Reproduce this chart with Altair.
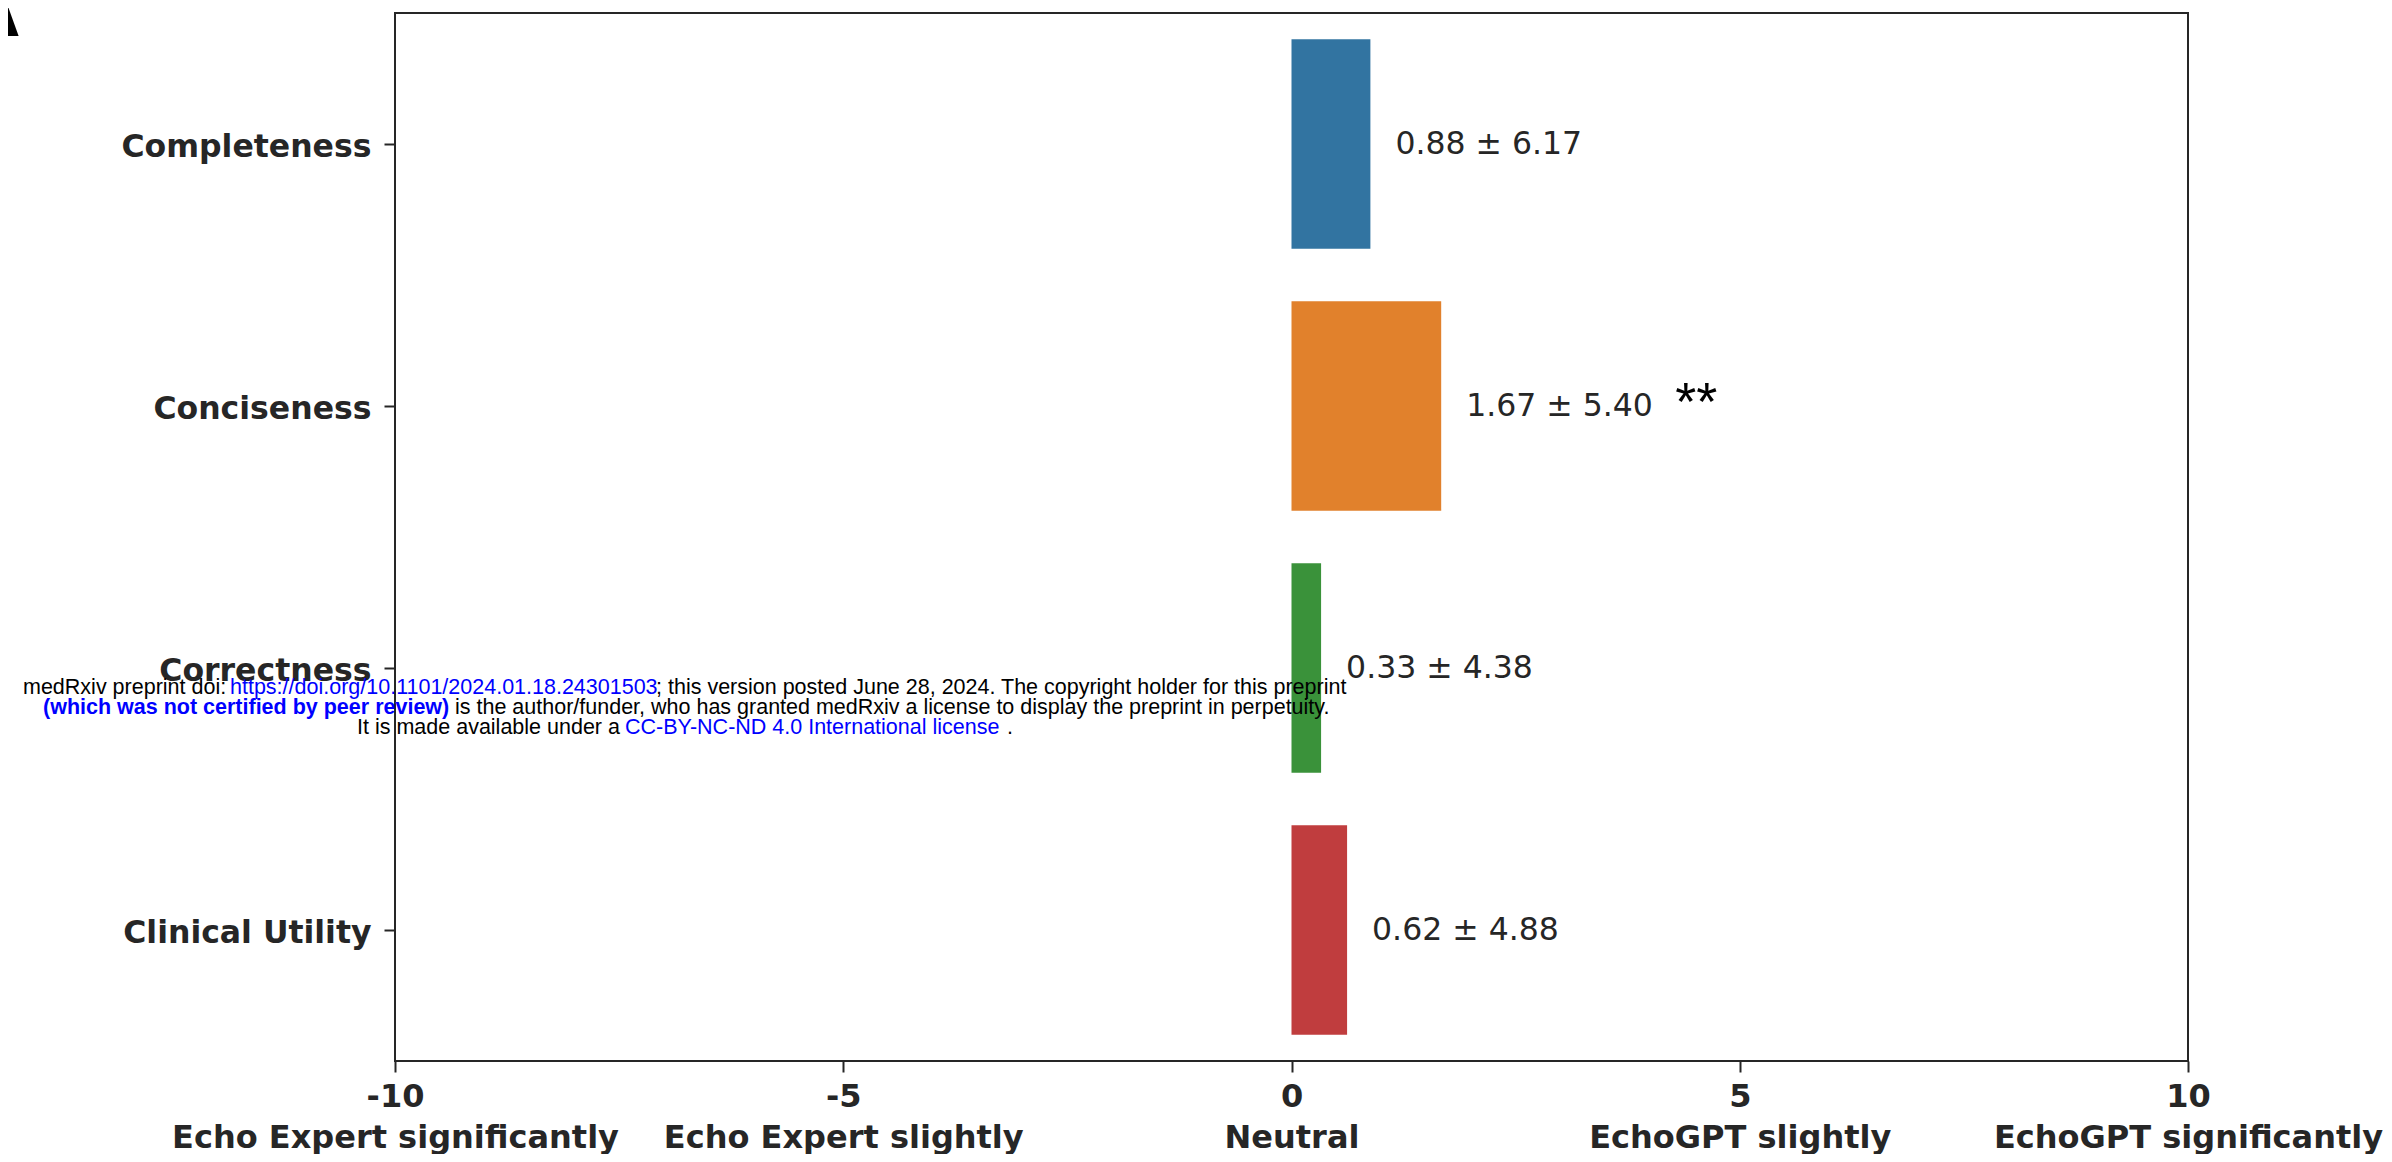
import altair as alt
import pandas as pd

# ---------------- data ----------------
categories = ["Completeness", "Conciseness", "Correctness", "Clinical Utility"]
means = [0.88, 1.67, 0.33, 0.62]
sds = [6.17, 5.40, 4.38, 4.88]
significance = ["", "**", "", ""]
bar_colors = ["#3274a1", "#e1812c", "#3a923a", "#c03d3e"]
tick_values = [-10, -5, 0, 5, 10]
tick_numbers = ["-10", "-5", "0", "5", "10"]
tick_names = ["Echo Expert significantly", "Echo Expert slightly", "Neutral",
              "EchoGPT slightly", "EchoGPT significantly"]

df = pd.DataFrame({"category": categories, "mean": means, "sd": sds, "sig": significance})
df["label"] = [f"{m:.2f} ± {s:.2f}" for m, s in zip(means, sds)]

TEXT = "#262626"
label_expr = " : ".join(
    f"datum.value == {v} ? ['{n}', '{t}']" for v, n, t in zip(tick_values, tick_numbers, tick_names)
) + " : ''"

x_enc = alt.X(
    "mean:Q",
    scale=alt.Scale(domain=[-10, 10], nice=False, zero=False),
    axis=alt.Axis(
        title=None, values=tick_values, labelExpr=label_expr, grid=False, domain=False,
        labelFont="DejaVu Sans", labelFontWeight="bold", labelFontSize=32, labelColor=TEXT,
        labelLineHeight=41, labelPadding=9, labelFlush=False, labelOverlap=False,
        labelBound=False, labelLimit=0, tickSize=11, tickWidth=2, tickColor=TEXT,
    ),
)
y_enc = alt.Y(
    "category:N",
    sort=categories,
    scale=alt.Scale(paddingInner=0.2, paddingOuter=0.1),
    axis=alt.Axis(
        title=None, domain=False, grid=False, labelLimit=0, labelOffset=4,
        labelFont="DejaVu Sans", labelFontWeight="bold", labelFontSize=31.5, labelColor=TEXT,
        labelPadding=13, tickSize=11, tickWidth=2, tickColor=TEXT,
    ),
)

base = alt.Chart(df)

bars = base.mark_bar().encode(
    x=x_enc,
    x2=alt.datum(0),
    y=y_enc,
    color=alt.Color("category:N", sort=categories,
                    scale=alt.Scale(domain=categories, range=bar_colors), legend=None),
)

labels = base.mark_text(
    align="left", baseline="middle", dx=25, dy=1,
    font="DejaVu Sans", fontSize=31.5, color=TEXT,
).encode(x="mean:Q", y=alt.Y("category:N", sort=categories), text="label:N")

sig = base.mark_text(
    align="left", baseline="alphabetic", dx=234, dy=14,
    font="Liberation Sans", fontSize=54, color="black",
).encode(x="mean:Q", y=alt.Y("category:N", sort=categories), text="sig:N")


def seg(text, x, y, color="black", bold=False):
    return alt.Chart(pd.DataFrame({"t": [text]})).mark_text(
        align="left", baseline="middle", font="Liberation Sans", fontSize=21.5,
        fontWeight="bold" if bold else "normal", color=color,
    ).encode(text="t:N", x=alt.value(x), y=alt.value(y))


BLUE = "#0000ff"
# watermark positions are relative to the plot area origin (left=387, top=5)
OX, OY = -387, -5
watermark = [
    seg("medRxiv preprint doi:", OX + 15, OY + 680),
    seg("https://doi.org/10.1101/2024.01.18.24301503", OX + 222, OY + 680, BLUE),
    seg("; this version posted June 28, 2024. The copyright holder for this preprint", OX + 648, OY + 680),
    seg("(which was not certified by peer review)", OX + 35, OY + 700, BLUE, True),
    seg("is the author/funder, who has granted medRxiv a license to display the preprint in perpetuity.", OX + 447, OY + 700),
    seg("It is made available under a", OX + 349, OY + 720),
    seg("CC-BY-NC-ND 4.0 International license", OX + 617, OY + 720, BLUE),
    seg(".", OX + 999, OY + 720),
]

panel = alt.Chart(pd.DataFrame({"t": ["A"]})).mark_text(
    align="right", baseline="alphabetic", font="Liberation Sans", fontWeight="bold",
    fontSize=90, color="black",
).encode(text="t:N", x=alt.value(OX + 13), y=alt.value(OY + 28))

chart = alt.layer(bars, labels, sig, *watermark, panel).properties(
    width=1793, height=1048,
    autosize=alt.AutoSizeParams(type="none"),
    padding={"left": 387, "top": 5, "right": 196, "bottom": 93},
    background="white",
).configure_view(stroke=TEXT, strokeWidth=2)

chart.save("out.html", embed_options={"renderer": "svg", "actions": False})
